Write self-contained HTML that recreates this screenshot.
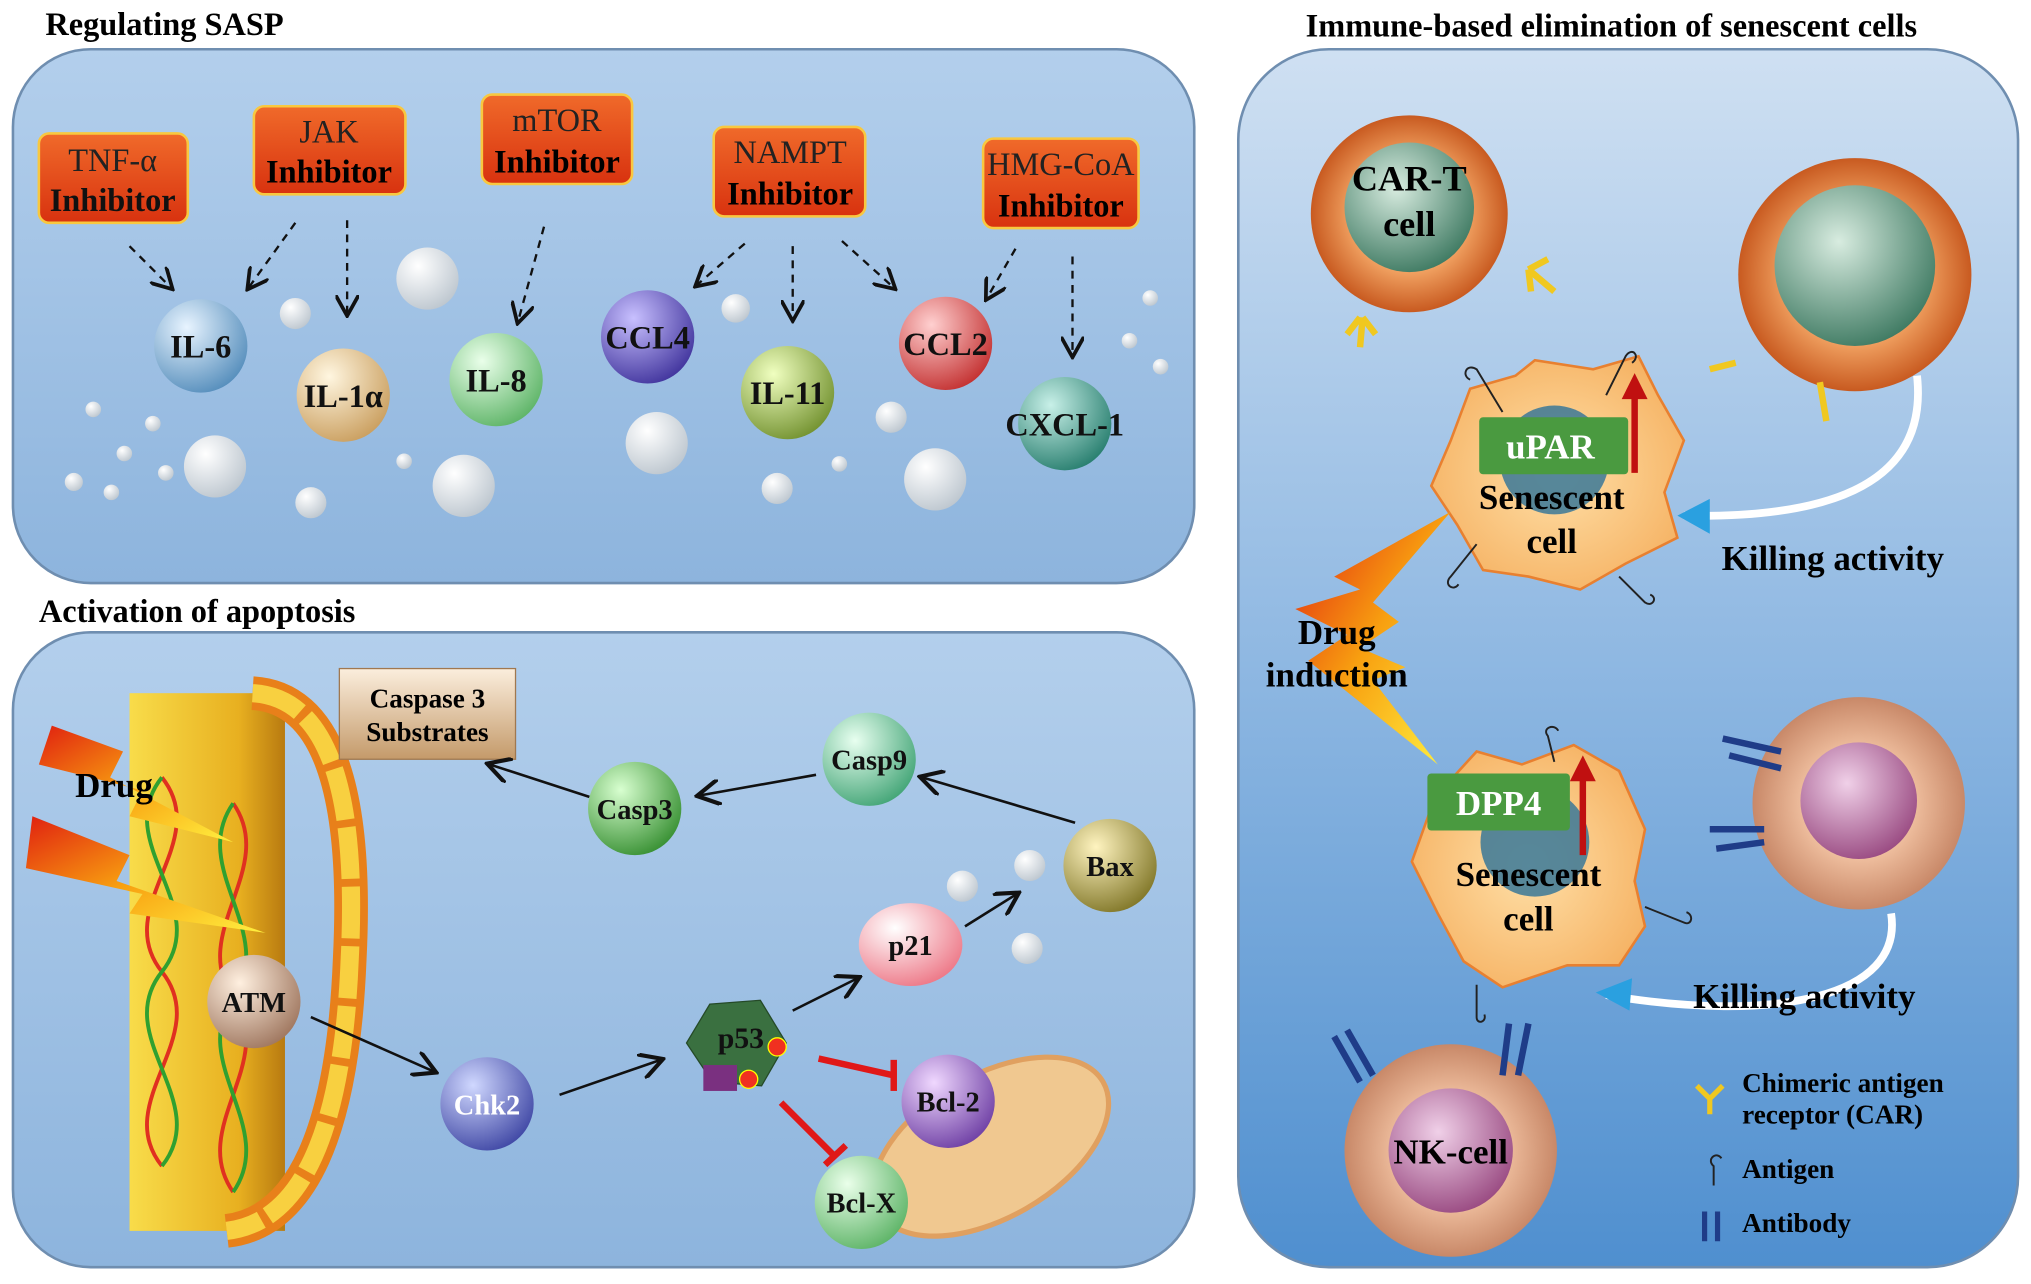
<!DOCTYPE html>
<html><head><meta charset="utf-8"><style>
html,body{margin:0;padding:0;background:#fff;}
svg{display:block}
text{font-family:"Liberation Serif",serif;font-weight:bold}
.n{font-weight:normal}
</style></head><body>
<svg width="2031" height="1284" viewBox="0 0 1568 991" preserveAspectRatio="none" xmlns="http://www.w3.org/2000/svg">
<defs>
<linearGradient id="pan" x1="0" y1="0" x2="0" y2="1"><stop offset="0" stop-color="#b3cfec"/><stop offset="1" stop-color="#8db4dd"/></linearGradient>
<linearGradient id="pan3" x1="0" y1="0" x2="0" y2="1"><stop offset="0" stop-color="#cfe0f2"/><stop offset="0.5" stop-color="#8fb8e2"/><stop offset="1" stop-color="#4f8fcf"/></linearGradient>
<linearGradient id="box" x1="0" y1="0" x2="0" y2="1"><stop offset="0" stop-color="#f06a2a"/><stop offset="1" stop-color="#d8320f"/></linearGradient>
<linearGradient id="mem" x1="0" y1="0" x2="1" y2="0"><stop offset="0" stop-color="#f8dc4a"/><stop offset="0.7" stop-color="#e8b020"/><stop offset="1" stop-color="#b87a10"/></linearGradient>
<linearGradient id="cas" x1="0" y1="0" x2="0" y2="1"><stop offset="0" stop-color="#fbeedd"/><stop offset="1" stop-color="#c49a6a"/></linearGradient>
<radialGradient id="wb" cx="0.35" cy="0.3" r="0.8"><stop offset="0" stop-color="#fff"/><stop offset="1" stop-color="#b9c3cc"/></radialGradient>
<radialGradient id="b1" cx="0.35" cy="0.3" r="0.8"><stop offset="0" stop-color="#e8f4ff"/><stop offset="1" stop-color="#4d88b8"/></radialGradient>
<radialGradient id="b2" cx="0.35" cy="0.3" r="0.8"><stop offset="0" stop-color="#fff6e0"/><stop offset="1" stop-color="#c79a58"/></radialGradient>
<radialGradient id="b3" cx="0.35" cy="0.3" r="0.8"><stop offset="0" stop-color="#eaffea"/><stop offset="1" stop-color="#56b060"/></radialGradient>
<radialGradient id="b4" cx="0.35" cy="0.3" r="0.8"><stop offset="0" stop-color="#c8c0ff"/><stop offset="1" stop-color="#3a2d98"/></radialGradient>
<radialGradient id="b5" cx="0.35" cy="0.3" r="0.8"><stop offset="0" stop-color="#f0ffc0"/><stop offset="1" stop-color="#6c8c28"/></radialGradient>
<radialGradient id="b6" cx="0.35" cy="0.3" r="0.8"><stop offset="0" stop-color="#ffd0d0"/><stop offset="1" stop-color="#c02828"/></radialGradient>
<radialGradient id="b7" cx="0.35" cy="0.3" r="0.8"><stop offset="0" stop-color="#c8f0e8"/><stop offset="1" stop-color="#1f7868"/></radialGradient>
<radialGradient id="b8" cx="0.35" cy="0.3" r="0.8"><stop offset="0" stop-color="#e8fff0"/><stop offset="1" stop-color="#3aa070"/></radialGradient>
<radialGradient id="b9" cx="0.35" cy="0.3" r="0.8"><stop offset="0" stop-color="#d8ffd0"/><stop offset="1" stop-color="#2f8a2a"/></radialGradient>
<radialGradient id="b10" cx="0.35" cy="0.3" r="0.8"><stop offset="0" stop-color="#fff4c0"/><stop offset="1" stop-color="#7a7020"/></radialGradient>
<radialGradient id="b11" cx="0.35" cy="0.3" r="0.8"><stop offset="0" stop-color="#ffffff"/><stop offset="1" stop-color="#ec7080"/></radialGradient>
<radialGradient id="b12" cx="0.35" cy="0.3" r="0.8"><stop offset="0" stop-color="#d0d8ff"/><stop offset="1" stop-color="#3840a0"/></radialGradient>
<radialGradient id="b13" cx="0.35" cy="0.3" r="0.8"><stop offset="0" stop-color="#f0d8ff"/><stop offset="1" stop-color="#6838a0"/></radialGradient>
<radialGradient id="b14" cx="0.35" cy="0.3" r="0.8"><stop offset="0" stop-color="#fff0e0"/><stop offset="1" stop-color="#9a7058"/></radialGradient>
<radialGradient id="orc" cx="0.5" cy="0.5" r="0.5"><stop offset="0.6" stop-color="#f0a060"/><stop offset="1" stop-color="#c85a20"/></radialGradient>
<radialGradient id="grn" cx="0.4" cy="0.35" r="0.7"><stop offset="0" stop-color="#d8ece0"/><stop offset="1" stop-color="#3c7860"/></radialGradient>
<radialGradient id="nk" cx="0.5" cy="0.5" r="0.5"><stop offset="0.5" stop-color="#f0c0a0"/><stop offset="1" stop-color="#c88868"/></radialGradient>
<radialGradient id="pur" cx="0.4" cy="0.35" r="0.7"><stop offset="0" stop-color="#f0d0e8"/><stop offset="1" stop-color="#984880"/></radialGradient>
<radialGradient id="sen" cx="0.5" cy="0.5" r="0.6"><stop offset="0" stop-color="#ffe0a8"/><stop offset="1" stop-color="#f5b060"/></radialGradient>
<linearGradient id="bolt" x1="0" y1="0" x2="1" y2="1"><stop offset="0" stop-color="#e02010"/><stop offset="0.5" stop-color="#f8a010"/><stop offset="1" stop-color="#fff040"/></linearGradient>
<marker id="ah" markerWidth="10" markerHeight="10" refX="8" refY="5" orient="auto"><path d="M0,0 L9,5 L0,10" fill="none" stroke="#111" stroke-width="1.6"/></marker>
</defs>
<rect width="1568" height="991" fill="#fff"/>
<text x="35" y="27" font-size="25">Regulating SASP</text>
<text x="30" y="480" font-size="25">Activation of apoptosis</text>
<text x="1008" y="28" font-size="25">Immune-based elimination of senescent cells</text>
<rect x="10" y="38" width="912" height="412" rx="60" fill="url(#pan)" stroke="#6f8eb0" stroke-width="2"/>
<rect x="10" y="488" width="912" height="490" rx="60" fill="url(#pan)" stroke="#6f8eb0" stroke-width="2"/>
<rect x="956" y="38" width="602" height="940" rx="70" fill="url(#pan3)" stroke="#6f8eb0" stroke-width="2"/>

<g font-size="25" text-anchor="middle">
<rect x="30" y="103" width="115" height="69" rx="8" fill="url(#box)" stroke="#f8c840" stroke-width="2"/><text x="87" y="132" class="n" style="font-weight:normal" fill="#222">TNF-α</text><text x="87" y="163" fill="#111">Inhibitor</text>
<rect x="196" y="82" width="117" height="68" rx="8" fill="url(#box)" stroke="#f8c840" stroke-width="2"/><text x="254" y="110" style="font-weight:normal" fill="#222">JAK</text><text x="254" y="141">Inhibitor</text>
<rect x="372" y="73" width="116" height="69" rx="8" fill="url(#box)" stroke="#f8c840" stroke-width="2"/><text x="430" y="101" style="font-weight:normal" fill="#222">mTOR</text><text x="430" y="133">Inhibitor</text>
<rect x="551" y="98" width="117" height="69" rx="8" fill="url(#box)" stroke="#f8c840" stroke-width="2"/><text x="610" y="126" style="font-weight:normal" fill="#222">NAMPT</text><text x="610" y="158">Inhibitor</text>
<rect x="759" y="107" width="120" height="69" rx="8" fill="url(#box)" stroke="#f8c840" stroke-width="2"/><text x="819" y="135" style="font-weight:normal" fill="#222">HMG-CoA</text><text x="819" y="167">Inhibitor</text>
</g>
<g stroke="#111" stroke-width="1.8" stroke-dasharray="6,5" fill="none" marker-end="url(#ah)">
<path d="M100,190 L132,222"/><path d="M228,172 L192,222"/><path d="M268,170 L268,242"/><path d="M420,175 L400,248"/>
<path d="M575,188 L538,220"/><path d="M612,190 L612,246"/><path d="M650,186 L690,222"/><path d="M784,192 L762,230"/><path d="M828,198 L828,274"/>
</g>
<g fill="url(#wb)">
<circle cx="330" cy="215" r="24"/><circle cx="228" cy="242" r="12"/><circle cx="166" cy="360" r="24"/><circle cx="358" cy="375" r="24"/><circle cx="240" cy="388" r="12"/>
<circle cx="72" cy="316" r="6"/><circle cx="118" cy="327" r="6"/><circle cx="96" cy="350" r="6"/><circle cx="57" cy="372" r="7"/><circle cx="86" cy="380" r="6"/><circle cx="128" cy="365" r="6"/><circle cx="312" cy="356" r="6"/>
<circle cx="507" cy="342" r="24"/><circle cx="568" cy="238" r="11"/><circle cx="600" cy="377" r="12"/><circle cx="688" cy="322" r="12"/><circle cx="722" cy="370" r="24"/><circle cx="648" cy="358" r="6"/>
<circle cx="888" cy="230" r="6"/><circle cx="872" cy="263" r="6"/><circle cx="896" cy="283" r="6"/>
<circle cx="743" cy="684" r="12"/><circle cx="795" cy="668" r="12"/><circle cx="793" cy="732" r="12"/>
</g>
<g font-size="25" text-anchor="middle" fill="#111">
<circle cx="155" cy="267" r="36" fill="url(#b1)"/><text x="155" y="276">IL-6</text>
<circle cx="265" cy="305" r="36" fill="url(#b2)"/><text x="265" y="314">IL-1α</text>
<circle cx="383" cy="293" r="36" fill="url(#b3)"/><text x="383" y="302">IL-8</text>
<circle cx="500" cy="260" r="36" fill="url(#b4)"/><text x="500" y="269">CCL4</text>
<circle cx="608" cy="303" r="36" fill="url(#b5)"/><text x="608" y="312">IL-11</text>
<circle cx="730" cy="265" r="36" fill="url(#b6)"/><text x="730" y="274">CCL2</text>
<circle cx="822" cy="327" r="36" fill="url(#b7)"/><text x="822" y="336">CXCL-1</text>
</g>

<rect x="100" y="535" width="120" height="415" fill="url(#mem)"/>
<path d="M195,535 Q280,540 270,740 Q262,940 175,950" fill="none" stroke="#e8801a" stroke-width="26"/>
<path d="M195,535 Q280,540 270,740 Q262,940 175,950" fill="none" stroke="#f8d040" stroke-width="14" stroke-dasharray="40,6"/>
<g stroke-width="3" fill="none">
<path d="M125,600 C165,650 85,700 125,750 C165,800 85,850 125,900" stroke="#e03020"/>
<path d="M125,600 C85,650 165,700 125,750 C85,800 165,850 125,900" stroke="#30a030"/>
<path d="M180,620 C215,670 145,720 180,770 C215,820 145,870 180,920" stroke="#e03020"/>
<path d="M180,620 C145,670 215,720 180,770 C145,820 215,870 180,920" stroke="#30a030"/>
</g>
<polygon points="40,560 95,580 85,600 180,650 100,630 110,610 30,590" fill="url(#bolt)"/>
<polygon points="25,630 100,660 90,680 205,720 100,705 110,690 20,670" fill="url(#bolt)"/>
<text x="58" y="615" font-size="27">Drug</text>
<rect x="262" y="516" width="136" height="70" fill="url(#cas)" stroke="#a07850"/>
<text x="330" y="546" font-size="21" text-anchor="middle">Caspase 3</text><text x="330" y="572" font-size="21" text-anchor="middle">Substrates</text>
<ellipse cx="765" cy="885" rx="100" ry="55" transform="rotate(-30 765 885)" fill="#f0c890" stroke="#e0a060" stroke-width="4"/>
<g stroke="#111" stroke-width="2" fill="none" marker-end="url(#ah)">
<path d="M455,615 L378,590"/><path d="M630,598 L540,614"/><path d="M830,635 L712,600"/>
<path d="M745,715 L785,690"/><path d="M612,780 L662,755"/><path d="M240,785 L335,827"/><path d="M432,845 L510,818"/>
</g>
<g stroke="#e01818" stroke-width="5" fill="none">
<path d="M632,817 L690,830"/><path d="M690,818 L690,842"/><path d="M603,851 L645,893"/><path d="M637,899 L653,884"/>
</g>
<g font-size="22" text-anchor="middle" fill="#111">
<circle cx="671" cy="586" r="36" fill="url(#b8)"/><text x="671" y="594">Casp9</text>
<circle cx="490" cy="624" r="36" fill="url(#b9)"/><text x="490" y="632">Casp3</text>
<circle cx="857" cy="668" r="36" fill="url(#b10)"/><text x="857" y="676">Bax</text>
<ellipse cx="703" cy="729" rx="40" ry="32" fill="url(#b11)"/><text x="703" y="737">p21</text>
<polygon points="548,775 587,772 607,805 588,838 550,835 530,805" fill="#3a7040" stroke="#254a28"/>
<rect x="543" y="822" width="26" height="20" fill="#7a3080"/><circle cx="600" cy="808" r="7" fill="#f03020" stroke="#ff0"/><circle cx="578" cy="833" r="7" fill="#f03020" stroke="#ff0"/>
<text x="572" y="809" font-size="23">p53</text>
<circle cx="376" cy="852" r="36" fill="url(#b12)"/><text x="376" y="860" fill="#fff">Chk2</text>
<circle cx="732" cy="850" r="36" fill="url(#b13)"/><text x="732" y="858">Bcl-2</text>
<circle cx="665" cy="928" r="36" fill="url(#b3)"/><text x="665" y="936">Bcl-X</text>
<circle cx="196" cy="773" r="36" fill="url(#b14)"/><text x="196" y="781">ATM</text>
</g>

<circle cx="1088" cy="165" r="76" fill="url(#orc)"/><circle cx="1088" cy="160" r="50" fill="url(#grn)"/>
<text x="1088" y="147" font-size="28" text-anchor="middle">CAR-T</text><text x="1088" y="182" font-size="28" text-anchor="middle">cell</text>
<circle cx="1432" cy="212" r="90" fill="url(#orc)"/><circle cx="1432" cy="205" r="62" fill="url(#grn)"/>
<g stroke="#f0c820" stroke-width="5" fill="none">
<path d="M1052,245 L1050,268 M1050,245 L1040,258 M1052,245 L1062,258"/>
<path d="M1180,208 L1200,225 M1180,208 L1195,200 M1180,208 L1182,225"/>
<path d="M1340,280 L1320,285"/><path d="M1405,295 L1410,325"/>
</g>
<path d="M1135,300 L1170,290 L1185,278 L1230,285 L1265,275 L1280,305 L1300,340 L1285,380 L1295,415 L1255,435 L1220,455 L1180,445 L1145,440 L1125,405 L1105,375 L1120,340 Z" fill="url(#sen)" stroke="#e88030" stroke-width="2"/>
<circle cx="1200" cy="355" r="42" fill="#3a7898" opacity="0.85"/>
<rect x="1142" y="322" width="115" height="44" fill="#4a9a40" rx="3"/><text x="1197" y="354" font-size="27" fill="#fff" text-anchor="middle">uPAR</text>
<path d="M1262,365 L1262,305" stroke="#c01010" stroke-width="5"/><polygon points="1252,308 1262,288 1272,308" fill="#c01010"/>
<text x="1198" y="393" font-size="27" text-anchor="middle">Senescent</text><text x="1198" y="427" font-size="27" text-anchor="middle">cell</text>
<path d="M1108,615 L1140,580 L1175,590 L1215,575 L1250,595 L1270,640 L1262,680 L1270,715 L1250,745 L1210,745 L1160,762 L1130,742 L1110,705 L1090,665 Z" fill="url(#sen)" stroke="#e88030" stroke-width="2"/>
<circle cx="1185" cy="650" r="42" fill="#3a7898" opacity="0.85"/>
<rect x="1102" y="597" width="110" height="44" fill="#4a9a40" rx="3"/><text x="1157" y="629" font-size="27" fill="#fff" text-anchor="middle">DPP4</text>
<path d="M1222,660 L1222,600" stroke="#c01010" stroke-width="5"/><polygon points="1212,603 1222,583 1232,603" fill="#c01010"/>
<text x="1180" y="684" font-size="27" text-anchor="middle">Senescent</text><text x="1180" y="718" font-size="27" text-anchor="middle">cell</text>
<g stroke="#222" stroke-width="1.5" fill="none">
<path d="M1160,318 L1140,285 c-8,-5 -12,5 -5,8"/><path d="M1240,305 L1255,275 c5,-8 12,0 5,5"/><path d="M1140,420 L1120,445 c-6,6 2,12 6,6"/><path d="M1250,445 L1270,465 c6,4 10,-4 4,-6"/>
<path d="M1200,588 L1195,568 c-5,-6 5,-10 8,-4"/><path d="M1270,700 L1300,712 c6,3 8,-6 2,-8"/><path d="M1140,760 L1140,785 c0,6 8,4 6,-2"/>
</g>
<polygon points="1120,395 1030,445 1050,455 1000,470 1040,490 1010,510 1110,590 1060,525 1085,515 1050,500 1080,480 1060,465" fill="url(#bolt)"/>
<text x="1032" y="497" font-size="27" text-anchor="middle">Drug</text><text x="1032" y="530" font-size="27" text-anchor="middle">induction</text>
<circle cx="1435" cy="620" r="82" fill="url(#nk)"/><circle cx="1435" cy="618" r="45" fill="url(#pur)"/>
<circle cx="1120" cy="888" r="82" fill="url(#nk)"/><circle cx="1120" cy="888" r="48" fill="url(#pur)"/>
<text x="1120" y="898" font-size="27" text-anchor="middle">NK-cell</text>
<g stroke="#1f3c88" stroke-width="5" fill="none">
<path d="M1330,570 L1375,580 M1335,583 L1375,593"/><path d="M1320,640 L1362,640 M1325,655 L1362,650"/>
<path d="M1030,800 L1050,835 M1040,795 L1060,830"/><path d="M1165,790 L1160,830 M1180,790 L1172,830"/>
</g>
<path d="M1480,290 C1490,380 1400,400 1300,398" fill="none" stroke="#fff" stroke-width="6"/><polygon points="1320,385 1295,398 1320,412" fill="#2aa0e0"/>
<text x="1415" y="440" font-size="27" text-anchor="middle">Killing activity</text>
<path d="M1460,705 C1470,770 1370,790 1240,768" fill="none" stroke="#fff" stroke-width="6"/><polygon points="1260,755 1232,766 1258,780" fill="#2aa0e0"/>
<text x="1393" y="778" font-size="27" text-anchor="middle">Killing activity</text>
<path d="M1320,860 L1320,848 M1320,848 L1310,838 M1320,848 L1330,838" stroke="#f0c820" stroke-width="4" fill="none"/>
<text x="1345" y="843" font-size="21">Chimeric antigen</text><text x="1345" y="867" font-size="21">receptor (CAR)</text>
<path d="M1323,915 L1323,900 c-6,-5 2,-12 6,-6" stroke="#222" fill="none" stroke-width="1.5"/>
<text x="1345" y="909" font-size="21">Antigen</text>
<path d="M1316,935 L1316,958 M1326,935 L1326,958" stroke="#1f3c88" stroke-width="4"/>
<text x="1345" y="951" font-size="21">Antibody</text>
</svg>
</body></html>
